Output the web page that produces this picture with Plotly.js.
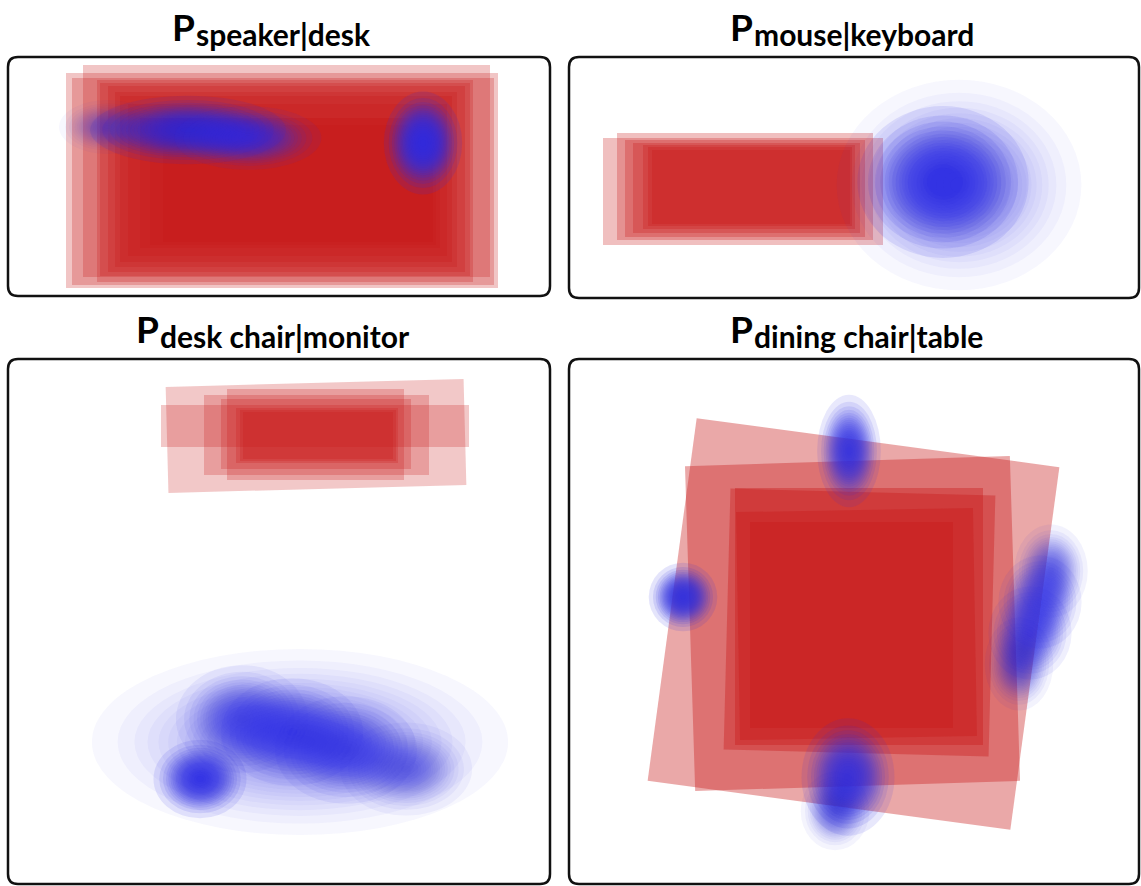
<!DOCTYPE html>
<html><head><meta charset="utf-8">
<script src="https://cdn.plot.ly/plotly-3.0.1.min.js"></script>
<style>html,body{margin:0;padding:0;background:#fff;} #chart{width:1141px;height:886px;}</style>
</head><body><div id="chart"></div>
<script>
// ---------- DATA (panel-local units, y grows downward) ----------
const titleMain = ['P', 'P', 'P', 'P'];
const panelTitles = ['speaker|desk', 'mouse|keyboard', 'desk chair|monitor', 'dining chair|table'];

// Panel 1: speaker | desk
const p1RectCx = [274, 278.5, 275, 277, 277, 278.5, 278, 278, 279.5, 282, 290, 285];
const p1RectCy = [123.5, 114, 124.5, 124, 122.5, 122, 122.5, 122, 123, 126, 123, 128];
const p1RectW  = [432, 407, 422, 376, 370, 357, 342, 332, 319, 300, 270, 286];
const p1RectH  = [215, 212, 207, 202, 193, 186, 175, 166, 152, 130, 124, 120];
const p1RectAngle = [0, 0, 0, 0, 0, 0, 0, 0, 0, 0, 0, 0];
const p1BlobCx = [180, 240, 100, 415];
const p1BlobCy = [73, 81, 70, 86];
const p1BlobSx = [40, 30, 20, 16];
const p1BlobSy = [14, 13, 11, 21];
const p1BlobWeight = [1.1, 0.75, 0.35, 1.4];

// Panel 2: mouse | keyboard
const p2RectCx = [174, 176, 176, 177.5, 180, 182, 181];
const p2RectCy = [134.5, 129.5, 131.5, 131, 130, 130, 129.5];
const p2RectW  = [280, 256, 240, 227, 212, 198, 204];
const p2RectH  = [107, 107, 97, 90, 84, 74, 79];
const p2RectAngle = [0, 0, 0, 0, 0, 0, 0];
const p2BlobCx = [374, 390];
const p2BlobCy = [125, 128];
const p2BlobSx = [35, 50];
const p2BlobSy = [31, 43];
const p2BlobWeight = [1.0, 0.35];

// Panel 3: desk chair | monitor
const p3RectCx = [308, 307, 308.5, 307.5, 310, 309, 310, 308];
const p3RectCy = [77, 67, 76, 75.5, 76.5, 76.5, 76.5, 75];
const p3RectW  = [298, 308, 225, 177, 150, 162, 156, 190];
const p3RectH  = [106, 42, 80, 91, 47, 55, 51, 70];
const p3RectAngle = [-1.5, 0, 0, 0, 0, 0, 0, 0];
const p3BlobCx = [192, 234, 284, 338, 398, 292];
const p3BlobCy = [420, 360, 373, 391, 410, 383];
const p3BlobSx = [19, 27, 29, 29, 27, 85];
const p3BlobSy = [16, 22, 22, 22, 19, 38];
const p3BlobWeight = [1.05, 0.6, 0.7, 0.65, 0.45, 0.35];

// Panel 4: dining chair | table
const p4RectCx = [284.5, 283.5, 290, 287.5, 282.5, 290.5];
const p4RectCy = [265, 264.5, 257.5, 265, 266, 263.5];
const p4RectW  = [366, 325, 248, 237, 203, 265];
const p4RectH  = [366, 325, 257, 228, 206, 261];
const p4RectAngle = [7.7, -1.8, 0, -1, 0, 1.5];
const p4BlobCx = [280, 114, 482, 471, 461, 450, 279, 266];
const p4BlobCy = [92, 238, 212, 243, 274, 305, 418, 452];
const p4BlobSx = [13, 14, 15, 17, 17, 14, 19, 14];
const p4BlobSy = [23, 14, 19, 19, 19, 19, 24, 16];
const p4BlobWeight = [1.0, 1.2, 0.55, 0.7, 0.7, 0.5, 1.0, 0.45];

// ---------- STYLE / LAYOUT ----------
const W = 1141, H = 886;
const boxes = [
  {l: 8,   t: 57,  r: 550,  b: 296},
  {l: 569, t: 57,  r: 1139, b: 298},
  {l: 8,   t: 359, r: 550,  b: 884},
  {l: 569, t: 359, r: 1139, b: 884}
];
const titleJoinX = [196, 754, 160, 754];   // where "P" ends and the subscript starts (px)
const redAlpha = [0.25, 0.28, 0.24, 0.38];
const blueTau = 0.115;
// nested-ellipse radii (in sigma units) giving a Gaussian-looking density falloff
const nLayers = 20;
const blobScales = [];
for (let k = 1; k <= nLayers; k++) {
  blobScales.push(k === nLayers ? 0.18 : Math.sqrt(-2 * Math.log(k / nLayers)));
}

const panels = [
  {rect: [p1RectCx, p1RectCy, p1RectW, p1RectH, p1RectAngle], blob: [p1BlobCx, p1BlobCy, p1BlobSx, p1BlobSy, p1BlobWeight]},
  {rect: [p2RectCx, p2RectCy, p2RectW, p2RectH, p2RectAngle], blob: [p2BlobCx, p2BlobCy, p2BlobSx, p2BlobSy, p2BlobWeight]},
  {rect: [p3RectCx, p3RectCy, p3RectW, p3RectH, p3RectAngle], blob: [p3BlobCx, p3BlobCy, p3BlobSx, p3BlobSy, p3BlobWeight]},
  {rect: [p4RectCx, p4RectCy, p4RectW, p4RectH, p4RectAngle], blob: [p4BlobCx, p4BlobCy, p4BlobSx, p4BlobSy, p4BlobWeight]}
];

function corners(cx, cy, w, h, angDeg) {
  const a = angDeg * Math.PI / 180, c = Math.cos(a), s = Math.sin(a);
  const pts = [[-w/2, -h/2], [w/2, -h/2], [w/2, h/2], [-w/2, h/2], [-w/2, -h/2]];
  return {
    x: pts.map(p => cx + p[0] * c - p[1] * s),
    y: pts.map(p => cy + p[0] * s + p[1] * c)
  };
}

const traces = [];
const shapes = [];
const annotations = [];
const layout = {
  width: W, height: H,
  margin: {l: 0, r: 0, t: 0, b: 0},
  paper_bgcolor: '#ffffff', plot_bgcolor: 'rgba(0,0,0,0)',
  showlegend: false,
  shapes: shapes, annotations: annotations
};
const titleFont = 'Lato, "Open Sans", sans-serif';

panels.forEach((p, i) => {
  const bx = boxes[i];
  const sfx = i === 0 ? '' : String(i + 1);
  const axCommon = {visible: false, showgrid: false, zeroline: false, fixedrange: true};
  layout['xaxis' + sfx] = Object.assign({}, axCommon, {domain: [bx.l / W, bx.r / W], range: [0, bx.r - bx.l], anchor: 'y' + sfx});
  layout['yaxis' + sfx] = Object.assign({}, axCommon, {domain: [1 - bx.b / H, 1 - bx.t / H], range: [bx.b - bx.t, 0], anchor: 'x' + sfx});

  const [cx, cy, w, h, ang] = p.rect;
  cx.forEach((_, k) => {
    const c = corners(cx[k], cy[k], w[k], h[k], ang[k]);
    traces.push({
      type: 'scatter', mode: 'lines', x: c.x, y: c.y, fill: 'toself',
      fillcolor: 'rgba(200,25,25,' + redAlpha[i] + ')', line: {width: 0},
      xaxis: 'x' + sfx, yaxis: 'y' + sfx, hoverinfo: 'skip'
    });
  });

  const [bcx, bcy, bsx, bsy, bw] = p.blob;
  bcx.forEach((_, k) => {
    const a = 1 - Math.exp(-blueTau * bw[k]);
    blobScales.forEach(m => {
      shapes.push({
        type: 'circle', xref: 'x' + sfx, yref: 'y' + sfx, layer: 'above',
        x0: bcx[k] - m * bsx[k], x1: bcx[k] + m * bsx[k],
        y0: bcy[k] - m * bsy[k], y1: bcy[k] + m * bsy[k],
        fillcolor: 'rgb(45,45,225)', opacity: a, line: {width: 0}
      });
    });
  });

  // rounded frame
  const r = 10;
  const X = v => (v / W).toFixed(5), Y = v => (1 - v / H).toFixed(5);
  const path = 'M' + X(bx.l + r) + ',' + Y(bx.t) + ' L' + X(bx.r - r) + ',' + Y(bx.t) +
    ' Q' + X(bx.r) + ',' + Y(bx.t) + ' ' + X(bx.r) + ',' + Y(bx.t + r) +
    ' L' + X(bx.r) + ',' + Y(bx.b - r) +
    ' Q' + X(bx.r) + ',' + Y(bx.b) + ' ' + X(bx.r - r) + ',' + Y(bx.b) +
    ' L' + X(bx.l + r) + ',' + Y(bx.b) +
    ' Q' + X(bx.l) + ',' + Y(bx.b) + ' ' + X(bx.l) + ',' + Y(bx.b - r) +
    ' L' + X(bx.l) + ',' + Y(bx.t + r) +
    ' Q' + X(bx.l) + ',' + Y(bx.t) + ' ' + X(bx.l + r) + ',' + Y(bx.t) + ' Z';
  shapes.push({type: 'path', xref: 'paper', yref: 'paper', path: path, layer: 'above',
    line: {color: '#111111', width: 2.5}, fillcolor: 'rgba(0,0,0,0)'});

  // title: big "P" + subscript
  const pBase = bx.t - 16, sBase = bx.t - 11;
  annotations.push({
    xref: 'paper', yref: 'paper', x: titleJoinX[i] / W, y: 1 - (pBase - 0.387 * 37) / H,
    xanchor: 'right', yanchor: 'middle', showarrow: false, borderpad: 0,
    text: titleMain[i],
    font: {family: titleFont, size: 37, color: '#000000', weight: 'bold'}
  });
  annotations.push({
    xref: 'paper', yref: 'paper', x: (titleJoinX[i] - 1) / W, y: 1 - (sBase - 0.387 * 30) / H,
    xanchor: 'left', yanchor: 'middle', showarrow: false, borderpad: 0,
    text: panelTitles[i],
    font: {family: titleFont, size: 30, color: '#000000', weight: 'bold'}
  });
});

Plotly.newPlot('chart', traces, layout, {staticPlot: true, displayModeBar: false});
</script></body></html>
